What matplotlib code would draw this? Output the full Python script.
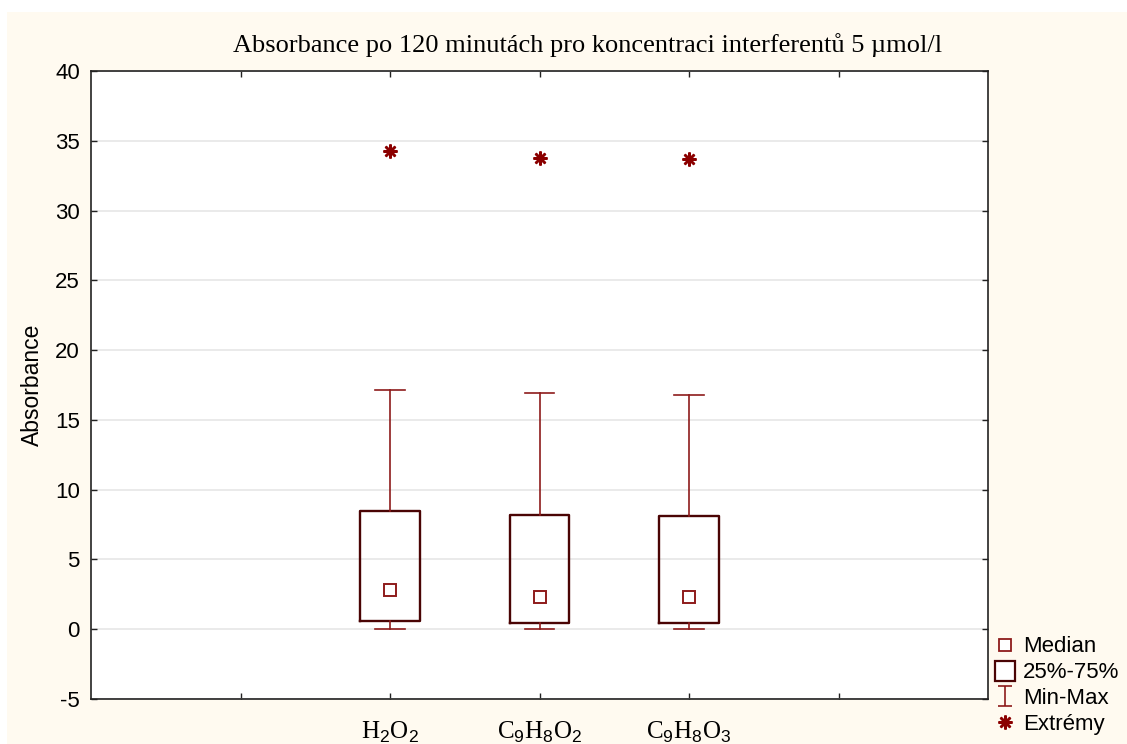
import numpy as np
import matplotlib
matplotlib.use("Agg")
import matplotlib.pyplot as plt
from matplotlib.patches import Rectangle
from matplotlib.path import Path
from matplotlib.lines import Line2D

plt.rcParams['font.family'] = ['Liberation Sans', 'DejaVu Sans']
plt.rcParams['mathtext.fontset'] = 'custom'
plt.rcParams['mathtext.rm'] = 'Liberation Sans'
plt.rcParams['axes.unicode_minus'] = False

# summary statistics per interferent
labels = ["H$_2$O$_2$", "C$_9$H$_8$O$_2$", "C$_9$H$_8$O$_3$"]
medians = [2.82, 2.32, 2.34]
q1 = [0.57, 0.48, 0.48]
q3 = [8.48, 8.15, 8.12]
mins = [0.0, 0.0, 0.0]
maxs = [17.11, 16.92, 16.80]
extremes = [34.27, 33.74, 33.71]

whisker_col = "#8e1b1b"
box_col = "#4a0404"
ext_col = "#8b0000"

fig = plt.figure(figsize=(11.27, 7.44), dpi=100, facecolor="white")
fig.patches.append(Rectangle((7 / 1127, 0), 1, 732 / 744, transform=fig.transFigure,
                             facecolor="#fffaf0", edgecolor="none", zorder=-10))
ax = fig.add_axes([91 / 1127, 45 / 744, 897 / 1127, 628 / 744])
ax.set_facecolor("white")

stats = []
for i in range(len(labels)):
    stats.append(dict(med=medians[i], q1=q1[i], q3=q3[i], whislo=mins[i],
                      whishi=maxs[i], fliers=[extremes[i]]))

pos = np.arange(1, len(labels) + 1)
ax.bxp(stats, positions=pos, widths=0.4, capwidths=0.2,
       boxprops=dict(color=box_col, linewidth=1.7),
       whiskerprops=dict(color=whisker_col, linewidth=1.2),
       capprops=dict(color=whisker_col, linewidth=1.2),
       medianprops=dict(linestyle="none"),
       flierprops=dict(marker=(8, 2, 0), markersize=10, markeredgewidth=1.8,
                       markeredgecolor=ext_col, markerfacecolor=ext_col, linestyle="none"),
       zorder=3)
ax.plot(pos, medians, linestyle="none", marker="s", markersize=8,
        markerfacecolor="white", markeredgecolor=whisker_col, markeredgewidth=1.4, zorder=4)

ax.set_xlim(-1, 5)
ax.set_ylim(-5, 40)
ax.set_yticks(np.arange(-5, 41, 5))
ax.set_xticks(np.arange(0, 5))
ax.set_xticklabels([""] + labels + [""], family=["Liberation Serif"], fontsize=18)
ax.tick_params(axis="y", labelsize=16, pad=8)
ax.tick_params(axis="x", pad=15)
ax.tick_params(direction="in", length=4, top=True, right=True, width=1, color="#222222")
ax.yaxis.grid(True, color="#e6e6e6", linewidth=1.2)
ax.set_axisbelow(True)
for s in ax.spines.values():
    s.set_color("#222222")
    s.set_linewidth(1.2)

ax.set_ylabel("Absorbance", fontsize=16.5, labelpad=8)
ax.set_title("Absorbance po 120 minutách pro koncentraci interferentů 5 µmol/l",
             family=["Liberation Serif"], fontsize=19, pad=14, x=0.554)

# custom I-beam marker for the min-max whisker
ibeam = Path([(-0.7, 1), (0.7, 1), (0, 1), (0, -1), (-0.7, -1), (0.7, -1)],
             [Path.MOVETO, Path.LINETO, Path.MOVETO, Path.LINETO, Path.MOVETO, Path.LINETO])
handles = [
    Line2D([], [], linestyle="none", marker="s", markersize=9, markerfacecolor="white",
           markeredgecolor=whisker_col, markeredgewidth=1.3),
    Line2D([], [], linestyle="none", marker="s", markersize=15, markerfacecolor="white",
           markeredgecolor=box_col, markeredgewidth=1.6),
    Line2D([], [], linestyle="none", marker=ibeam, markersize=15,
           markeredgecolor=whisker_col, markeredgewidth=1.2),
    Line2D([], [], linestyle="none", marker=(8, 2, 0), markersize=10,
           markeredgecolor=ext_col, markeredgewidth=1.8),
]
fig.legend(handles, ["Median", "25%-75%", "Min-Max", "Extrémy"], loc="lower left",
           bbox_to_anchor=(985 / 1127, 0 / 744), frameon=False, fontsize=16,
           handlelength=1.0, handletextpad=0.3, labelspacing=0.22, borderaxespad=0)

fig.savefig("out.png", dpi=100, facecolor=fig.get_facecolor())
